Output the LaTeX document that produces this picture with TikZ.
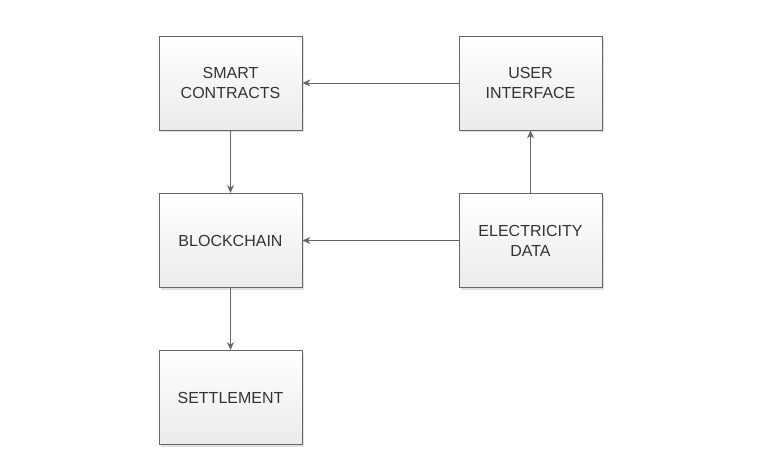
\documentclass[tikz,border=0pt]{standalone}
\usepackage{fontspec}
\setmainfont{Liberation Sans}
\usetikzlibrary{arrows.meta,shadows}
\definecolor{edge}{HTML}{666666}
\definecolor{txt}{HTML}{333333}
\definecolor{botc}{HTML}{EBEBEB}
\tikzset{
  box/.style={draw=edge, line width=0.9pt, minimum width=143pt, minimum height=94pt,
    top color=white, bottom color=botc, align=center, text=txt,
    font=\fontsize{16pt}{20pt}\selectfont,
    drop shadow={shadow xshift=2pt, shadow yshift=-2pt, fill=black, opacity=0.12}},
  conn/.style={draw=edge, line width=0.9pt, -{Stealth[length=8pt,width=7pt]}}
}
\begin{document}
\begin{tikzpicture}[x=1pt,y=1pt]
\useasboundingbox (0,0) rectangle (764,467);
\node[box] (sc) at (230.5,384) {SMART\\CONTRACTS};
\node[box] (ui) at (530.5,384) {USER\\INTERFACE};
\node[box] (bc) at (230.5,226.5) {BLOCKCHAIN};
\node[box] (ed) at (530.5,226.5) {ELECTRICITY\\DATA};
\node[box] (st) at (230.5,69.5) {SETTLEMENT};
\draw[conn] (ui) -- (sc);
\draw[conn] (sc) -- (bc);
\draw[conn] (ed) -- (bc);
\draw[conn] (ed) -- (ui);
\draw[conn] (bc) -- (st);
\end{tikzpicture}
\end{document}
